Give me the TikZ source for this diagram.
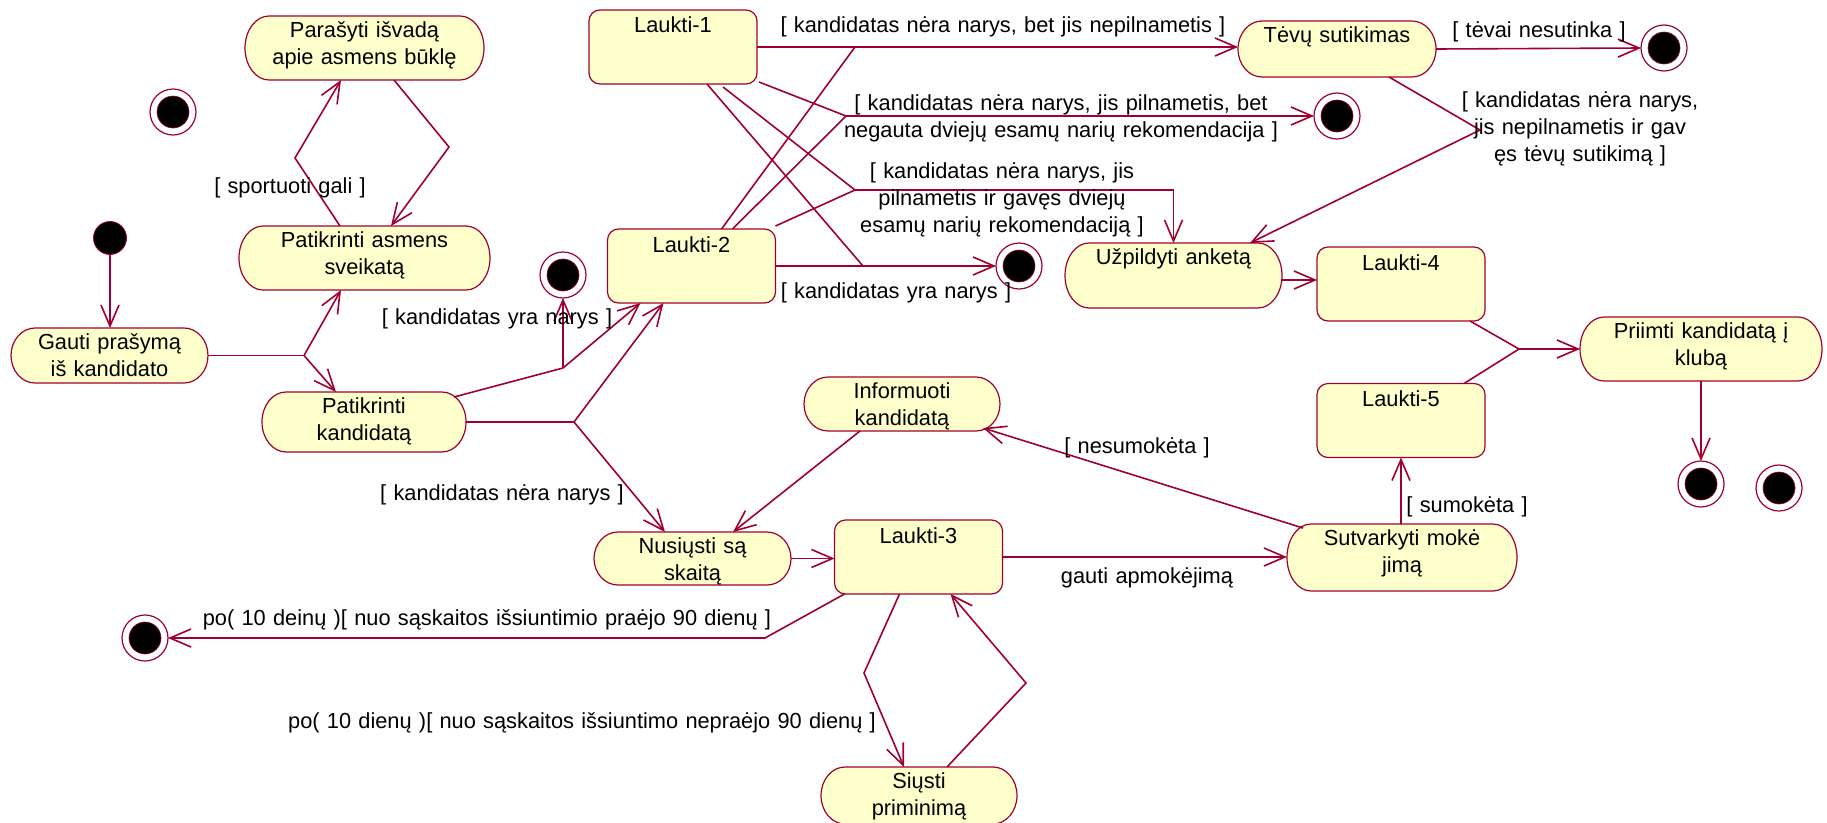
\documentclass[tikz,border=0pt]{standalone}
\usepackage{fontspec}
\setmainfont{Liberation Sans}[WordSpace=1.2]
\usetikzlibrary{arrows.meta,calc}
\definecolor{mar}{RGB}{160,0,48}
\definecolor{yel}{RGB}{255,255,204}

% activity state: stadium outline with elliptic ends, caption near the top
\newcommand\actv[6]{%
  \node[actbox, minimum width=#4pt, minimum height=#5pt] (#1) at (#2,#3) {};
  \filldraw[shapeline] ([xshift=24pt]#1.north west) -- ([xshift=-24pt]#1.north east)
     arc[start angle=90, end angle=-90, x radius=24pt, y radius=0.5*#5pt]
     -- ([xshift=24pt]#1.south west)
     arc[start angle=270, end angle=90, x radius=24pt, y radius=0.5*#5pt] -- cycle;
  \node[txt, anchor=north] (#1-t) at ([yshift=-5.5pt]#1.north) {#6};
}
% waiting state: rounded rectangle, caption at the top
\newcommand\waitst[4]{%
  \node[waitbox] (#1) at (#2,#3) {};
  \node[txt, anchor=north] (#1-t) at ([yshift=-7pt]#1.north) {#4};
}
% final state: bull's eye
\newcommand\finst[3]{%
  \node[finouter] (#1) at (#2,#3) {};
  \node[fininner] (#1-c) at (#2,#3) {};
}

\begin{document}
\begin{tikzpicture}[x=1pt,y=-1pt,
  txt/.style={font=\fontsize{21.8}{27}\selectfont, align=center, inner sep=0pt},
  link/.style={draw=mar, line width=1.6pt},
  arr/.style={link, -{Straight Barb[length=21pt,width=18pt]}},
  shapeline/.style={draw=mar, fill=yel, line width=1.2pt},
  actbox/.style={rectangle, draw=none, inner sep=0pt, outer sep=0pt},
  waitbox/.style={rectangle, draw=mar, fill=yel, line width=1.2pt, rounded corners=11pt,
    minimum width=168pt, minimum height=74pt, inner sep=0pt, outer sep=0pt},
  finouter/.style={circle, draw=mar, fill=white, line width=1.2pt, minimum size=46pt, inner sep=0pt, outer sep=0pt},
  fininner/.style={circle, draw=mar, fill=black, line width=0.6pt, minimum size=32pt, inner sep=0pt},
  initst/.style={circle, draw=mar, fill=black, line width=0.8pt, minimum size=33pt, inner sep=0pt, outer sep=0pt},
]
\useasboundingbox (0,0) rectangle (1827,822);

% ---- states ----
\node[initst] (ini) at (110,238) {};

\actv{par}{364.5}{48}{239}{64}{Parašyti išvadą\\apie asmens būklę}
\actv{pas}{364.5}{258}{251}{64}{Patikrinti asmens\\sveikatą}
\actv{gau}{109.5}{355.5}{197}{55}{Gauti prašymą\\iš kandidato}
\actv{pka}{364}{422}{204}{60}{Patikrinti\\kandidatą}
\actv{tev}{1337}{49}{198}{56}{Tėvų sutikimas}
\actv{uzp}{1173.5}{275.5}{217}{65}{Užpildyti anketą}
\actv{pri}{1701}{349}{242}{64}{Priimti kandidatą į\\klubą}
\actv{inf}{902}{404}{196}{54}{Informuoti\\kandidatą}
\actv{nus}{692.5}{558.5}{197}{53}{Nusiųsti są\\skaitą}
\actv{sut}{1402}{557.5}{230}{67}{Sutvarkyti mokė\\jimą}
\actv{siu}{919}{795.5}{196}{57}{Siųsti\\priminimą}

\waitst{l1}{673}{47}{Laukti-1}
\waitst{l2}{691.5}{266}{Laukti-2}
\waitst{l3}{918.5}{557}{Laukti-3}
\waitst{l4}{1401}{284}{Laukti-4}
\waitst{l5}{1401}{420.5}{Laukti-5}

\finst{f1}{173}{112}
\finst{f2}{563}{275}
\finst{f3}{1019}{266}
\finst{f4}{1337}{116}
\finst{f5}{1664}{48}
\finst{f6}{1701}{484}
\finst{f7}{1779}{488}
\finst{f8}{145}{638}

% ---- junction points ----
\coordinate (j1) at (304,355.5);
\coordinate (j2) at (563,368);
\coordinate (j3) at (574,422);
\coordinate (j4) at (855,47);
\coordinate (j5) at (846,116);
\coordinate (j6) at (855,190);
\coordinate (j7) at (863,266);
\coordinate (j8) at (1480,130);
\coordinate (j9) at (1519,349);

% ---- transitions ----
\draw[arr] (ini.south) -- (ini.south |- gau.north);

\draw[link] (gau.east) -- (j1);
\draw[arr] (j1) -- ([xshift=102pt]pas.south west);
\draw[arr] (j1) -- ([xshift=74pt]pka.north west);

\draw[arr] ([xshift=101pt]pas.north west) -- (295,158) -- ([xshift=96pt]par.south west);
\draw[arr] ([xshift=149pt]par.south west) -- (449,147) -- ([xshift=152pt]pas.north west);

\draw[link] ([xshift=-12pt,yshift=-5pt]pka.north east) -- (j2);
\draw[arr] (j2) -- (f2.south);
\draw[arr] (j2) -- ([xshift=33pt]l2.south west);

\draw[link] (pka.east) -- (j3);
\draw[arr] (j3) -- ([xshift=56pt]l2.south west);
\draw[arr] (j3) -- ([xshift=71pt]nus.north west);

\draw[arr] (l1.east) -- (l1.east -| tev.west);
\draw[link] ([xshift=114pt]l2.north west) -- (j4);

\draw[link] ([xshift=2pt,yshift=2pt]l1.south east) -- (j5);
\draw[link] ([xshift=125pt]l2.north west) -- (j5);
\draw[arr] (j5) -- (f4.west);

\draw[link] ([xshift=134pt,yshift=-3pt]l1.south west) -- (j6);
\draw[link] ([yshift=3pt]l2.north east) -- (j6);
\draw[arr] (j6) -| (uzp.north);

\draw[link] ([xshift=118pt]l1.south west) -- (j7);
\draw[link] (l2.east) -- (j7);
\draw[arr] (j7) -- (f3.west);

\draw[arr] (tev.east) -- (f5.west);
\draw[link] ([xshift=151pt]tev.south west) -- (j8);
\draw[arr] (j8) -- ([xshift=-32pt]uzp.north east);

\draw[arr] ([yshift=-4.5pt]uzp.east) -- ([yshift=-4.5pt]uzp.east -| l4.west);

\draw[link] ([xshift=-15pt]l4.south east) -- (j9);
\draw[link] ([xshift=-21pt]l5.north east) -- (j9);
\draw[arr] (j9) -- (pri.west);
\draw[arr] (pri.south) -- (f6.north);

\draw[arr] (l5.south |- sut.north) -- (l5.south);
\draw[arr] ([xshift=16pt,yshift=-4pt]sut.north west) -- ([xshift=-17pt,yshift=3pt]inf.south east);
\draw[arr] ([xshift=56pt]inf.south west) -- ([xshift=139pt]nus.north west);
\draw[arr] (nus.east) -- (nus.east -| l3.west);
\draw[arr] (l3.east) -- (l3.east -| sut.west);

\draw[arr] ([xshift=10pt]l3.south west) -- (765,638) -- (f8.east);
\draw[arr] ([xshift=65pt]l3.south west) -- (864,673) -- ([xshift=83pt]siu.north west);
\draw[arr] ([xshift=126pt]siu.north west) -- (1026,683) -- ([xshift=116pt]l3.south west);

% ---- guards and events ----
\node[txt] (g1) at (290,188) {[ sportuoti gali ]};
\node[txt] (g2) at (497,319) {[ kandidatas yra narys ]};
\node[txt] (g3) at (502,495) {[ kandidatas nėra narys ]};
\node[txt] (g4) at (1003,27) {[ kandidatas nėra narys, bet jis nepilnametis ]};
\node[txt] (g5) at (1061,118.5) {[ kandidatas nėra narys, jis pilnametis, bet\\negauta dviejų esamų narių rekomendacija ]};
\node[txt] (g6) at (1002,199.5) {[ kandidatas nėra narys, jis\\pilnametis ir gavęs dviejų\\esamų narių rekomendaciją ]};
\node[txt] (g7) at (896,293) {[ kandidatas yra narys ]};
\node[txt] (g8) at (1539,32) {[ tėvai nesutinka ]};
\node[txt] (g9) at (1580,129) {[ kandidatas nėra narys,\\jis nepilnametis ir gav\\ęs tėvų sutikimą ]};
\node[txt] (g10) at (1467,507) {[ sumokėta ]};
\node[txt] (g11) at (1137,448) {[ nesumokėta ]};
\node[txt] (g12) at (1147,578) {gauti apmokėjimą};
\node[txt] (g13) at (487,620) {po( 10 deinų )[ nuo sąskaitos išsiuntimio praėjo 90 dienų ]};
\node[txt] (g14) at (582,723) {po( 10 dienų )[ nuo sąskaitos išsiuntimo nepraėjo 90 dienų ]};
\end{tikzpicture}
\end{document}
